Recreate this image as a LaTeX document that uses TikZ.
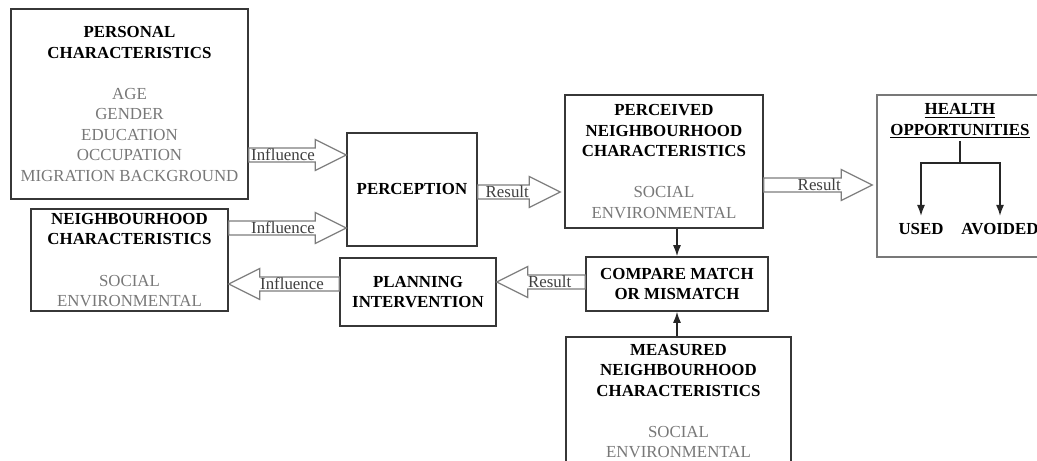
\documentclass[tikz,border=0pt]{standalone}
\usepackage{fontspec}
\setmainfont{Liberation Serif}
\definecolor{boxline}{RGB}{55, 55, 55}
\definecolor{itemgray}{RGB}{120, 120, 120}
\definecolor{fatgray}{RGB}{125, 125, 125}
\usetikzlibrary{arrows.meta, positioning, calc}
\tikzset{
	block/.style={rectangle, draw=boxline, line width=0.9pt, align=center, inner sep=0pt, font=\fontsize{9.6}{11.7}\selectfont},
	headline/.style={align=center, inner sep=1pt, font=\fontsize{9.6}{11.7}\selectfont\bfseries},
	fatarrow/.style={draw=fatgray, line width=0.7pt, fill=white},
	fatlabel/.style={inner sep=0pt, text=black!75, font=\fontsize{9.6}{11.7}\selectfont},
	arrow/.style={-{Latex[length=2.2mm, width=1.6mm]}, line width=0.8pt, draw=black!85},
}
\newcommand{\itm}[1]{\textcolor{itemgray}{#1}}
% hollow block arrow: tail, tip, label, label anchor
\newcommand{\blockarrow}[4]{%
	\coordinate (neck) at ($(#2)!0.62cm!(#1)$);
	\draw[fatarrow] ($(#1)!0.14cm!90:(#2)$) -- ($(neck)!0.14cm!90:(#2)$) -- ($(neck)!0.31cm!90:(#2)$) -- (#2)
		-- ($(neck)!0.31cm!-90:(#2)$) -- ($(neck)!0.14cm!-90:(#2)$) -- ($(#1)!0.14cm!-90:(#2)$) -- cycle;
	\node[fatlabel, anchor=#4] (#1-lbl) at (neck) {#3};
}

\begin{document}
\begin{tikzpicture}
	\useasboundingbox (0,0) rectangle (20.74,-9.22);
	\clip (0,0) rectangle (20.74,-9.22);

	% boxes
	\node[block, minimum width=4.74cm, minimum height=3.8cm] (pers) at (2.59,-2.08)
		{\textbf{PERSONAL}\\\textbf{CHARACTERISTICS}\\[11.7pt]\itm{AGE}\\\itm{GENDER}\\\itm{EDUCATION}\\\itm{OCCUPATION}\\\itm{MIGRATION BACKGROUND}};
	\node[block, minimum width=3.94cm, minimum height=2.04cm] (nc) at (2.59,-5.2)
		{\textbf{NEIGHBOURHOOD}\\\textbf{CHARACTERISTICS}\\[11.7pt]\itm{SOCIAL}\\\itm{ENVIRONMENTAL}};
	\node[block, minimum width=2.6cm, minimum height=2.26cm] (perc) at (8.24,-3.79) {\textbf{PERCEPTION}};
	\node[block, minimum width=3.12cm, minimum height=1.36cm] (plan) at (8.36,-5.84) {\textbf{PLANNING}\\\textbf{INTERVENTION}};
	\node[block, minimum width=3.96cm, minimum height=2.66cm] (percd) at (13.28,-3.23)
		{\textbf{PERCEIVED}\\\textbf{NEIGHBOURHOOD}\\\textbf{CHARACTERISTICS}\\[11.7pt]\itm{SOCIAL}\\\itm{ENVIRONMENTAL}};
	\node[block, minimum width=3.64cm, minimum height=1.08cm] (comp) at (13.54,-5.68) {\textbf{COMPARE MATCH}\\\textbf{OR MISMATCH}};
	\node[block, minimum width=4.5cm, minimum height=2.56cm] (meas) at (13.57,-8.02)
		{\textbf{MEASURED}\\\textbf{NEIGHBOURHOOD}\\\textbf{CHARACTERISTICS}\\[11.7pt]\itm{SOCIAL}\\\itm{ENVIRONMENTAL}};
	\node[block, draw=itemgray, minimum width=3.32cm, minimum height=3.24cm] (health) at (19.2,-3.52) {};
	\node[headline] (htitle) at (19.2,-2.42) {\underline{HEALTH}\\\underline{OPPORTUNITIES}};
	\node[headline] (used) at (18.42,-4.58) {USED};
	\node[headline] (avoided) at (20.0,-4.58) {AVOIDED};

	% block arrows
	\coordinate (i1s) at ($(pers.east)+(0,-1.02)$);
	\coordinate (i1e) at (perc.west |- i1s);
	\coordinate (i2s) at (nc.east |- 0,-4.56);
	\coordinate (i2e) at (perc.west |- i2s);
	\coordinate (r1s) at (perc.east |- 0,-3.84);
	\coordinate (r1e) at ($(percd.west |- r1s)+(-0.08,0)$);
	\coordinate (r2s) at (percd.east |- 0,-3.7);
	\coordinate (r2e) at ($(health.west |- r2s)+(-0.08,0)$);
	\coordinate (r3s) at (comp.west |- 0,-5.64);
	\coordinate (r3e) at (plan.east |- r3s);
	\coordinate (i3s) at (plan.west |- 0,-5.68);
	\coordinate (i3e) at (nc.east |- i3s);
	\blockarrow{i1s}{i1e}{Influence}{east}
	\blockarrow{i2s}{i2e}{Influence}{east}
	\blockarrow{r1s}{r1e}{Result}{east}
	\blockarrow{r2s}{r2e}{Result}{east}
	\blockarrow{r3s}{r3e}{Result}{west}
	\blockarrow{i3s}{i3e}{Influence}{west}

	% thin arrows
	\draw[arrow] (percd.south -| comp.north) -- (comp.north);
	\draw[arrow] (meas.north -| comp.south) -- (comp.south);
	\coordinate (br) at (htitle.south |- 0,-3.26);
	\draw[line width=0.8pt, draw=black!85] (htitle.south) -- (br);
	\draw[arrow, shorten >=3pt] (br) -| (used.north);
	\draw[arrow, shorten >=3pt] (br) -| (avoided.north);
\end{tikzpicture}
\end{document}
